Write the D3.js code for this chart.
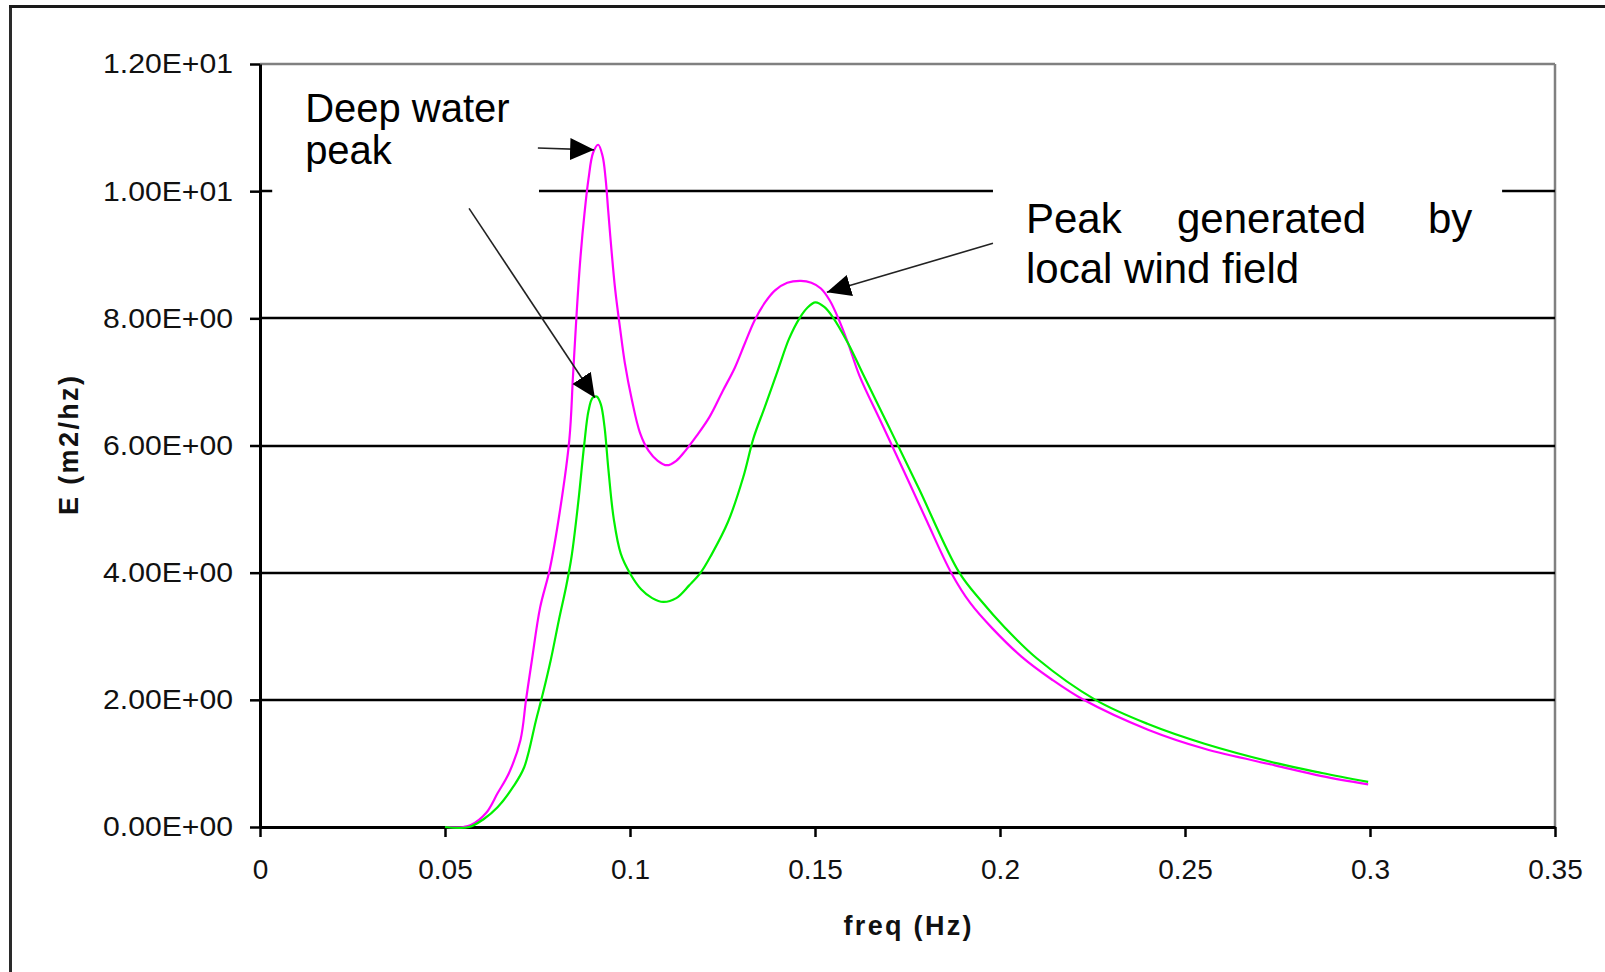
<!DOCTYPE html>
<html>
<head>
<meta charset="utf-8">
<script src="https://cdn.jsdelivr.net/npm/d3@7"></script>
<style>
  html, body { margin: 0; padding: 0; background: #fff; }
  svg { display: block; }
  text { font-family: "Liberation Sans", Arial, sans-serif; }
</style>
</head>
<body>
<svg id="chart" width="1605" height="972"></svg>
<script>
// ---------------- data ----------------
const xTicks = [0, 0.05, 0.1, 0.15, 0.2, 0.25, 0.3, 0.35];
const xTickLabels = ["0", "0.05", "0.1", "0.15", "0.2", "0.25", "0.3", "0.35"];
const yTicks = [0, 2, 4, 6, 8, 10, 12];
const yTickLabels = ["0.00E+00", "2.00E+00", "4.00E+00", "6.00E+00", "8.00E+00", "1.00E+01", "1.20E+01"];

// magenta series
const freqMagenta = [0.050, 0.055, 0.057, 0.0611, 0.0642, 0.0673, 0.0704, 0.0719, 0.0735, 0.0757, 0.0783, 0.0810,
  0.0836, 0.0846, 0.0856, 0.0866, 0.0877, 0.0888, 0.0900, 0.0914, 0.0926, 0.0934, 0.0941, 0.0950, 0.0960,
  0.0973, 0.0986, 0.1005, 0.1027, 0.1050, 0.1075, 0.1100, 0.1125, 0.1150, 0.1180, 0.1215, 0.1250, 0.1283, 0.1310,
  0.1337, 0.1365, 0.1392, 0.1425, 0.1462, 0.1490, 0.1516, 0.1540, 0.1563, 0.1590, 0.1620, 0.1680, 0.1740,
  0.1800, 0.1868, 0.1920, 0.1980, 0.2058, 0.2140, 0.2226, 0.2400, 0.2553, 0.2743, 0.2870, 0.2995];
const energyMagenta = [0, 0, 0.03, 0.22, 0.53, 0.85, 1.37, 2.00, 2.63, 3.45, 4.05, 4.95,
  6.09, 7.10, 8.10, 8.95, 9.65, 10.20, 10.60, 10.73, 10.55, 10.20, 9.70, 9.07, 8.45,
  7.85, 7.30, 6.72, 6.20, 5.92, 5.76, 5.69, 5.76, 5.92, 6.15, 6.45, 6.85, 7.22, 7.60,
  7.97, 8.25, 8.44, 8.56, 8.59, 8.56, 8.47, 8.28, 8.00, 7.60, 7.10, 6.35, 5.60,
  4.84, 4.00, 3.52, 3.12, 2.68, 2.32, 2.00, 1.53, 1.23, 0.97, 0.80, 0.67];

// green series
const freqGreen = [0.050, 0.0565, 0.0605, 0.0642, 0.0684, 0.0714, 0.0746, 0.0765, 0.0786, 0.0808, 0.0827, 0.0842,
  0.0860, 0.0876, 0.0888, 0.0899, 0.0910, 0.0921, 0.0931, 0.0942, 0.0956, 0.0975, 0.1001, 0.1030, 0.1060, 0.1090, 0.1125,
  0.1160, 0.1191, 0.1220, 0.1265, 0.1306, 0.1334, 0.1364, 0.1400, 0.1430, 0.1458, 0.1480, 0.1501, 0.1525, 0.1548,
  0.1590, 0.1630, 0.1700, 0.1780, 0.1890, 0.1950, 0.2011, 0.2100, 0.2258, 0.2400, 0.2553, 0.2750, 0.2870, 0.2995];
const energyGreen = [0, 0, 0.126, 0.31, 0.63, 0.94, 1.68, 2.11, 2.63, 3.26, 3.77, 4.25,
  5.10, 6.00, 6.55, 6.75, 6.77, 6.65, 6.30, 5.60, 4.85, 4.30, 3.98, 3.74, 3.60, 3.54, 3.60,
  3.80, 4.00, 4.28, 4.80, 5.50, 6.12, 6.60, 7.19, 7.68, 8.00, 8.17, 8.25, 8.18, 8.02,
  7.60, 7.12, 6.29, 5.33, 4.00, 3.55, 3.15, 2.65, 2.00, 1.62, 1.31, 1.00, 0.85, 0.71];

// annotation texts
const deepLabel = ["Deep water", "peak"];
const windLine1 = ["Peak", "generated", "by"];
const windLine2 = "local wind field";
const xTitle = "freq (Hz)";
const yTitle = "E (m2/hz)";

// ---------------- layout ----------------
const svg = d3.select("#chart");
const W = 1605, H = 972;
const plotLeft = 260, plotRight = 1555, plotTop = 64, plotBottom = 827;

const x = d3.scaleLinear().domain([0, 0.35]).range([plotLeft, plotRight]);
const y = d3.scaleLinear().domain([0, 12]).range([plotBottom, plotTop]);

// outer frame
svg.append("line").attr("x1", 10.5).attr("x2", 10.5).attr("y1", 5).attr("y2", H)
  .attr("stroke", "#2a2a2a").attr("stroke-width", 3);
svg.append("line").attr("x1", 9).attr("x2", W).attr("y1", 6.5).attr("y2", 6.5)
  .attr("stroke", "#1a1a1a").attr("stroke-width", 3);

// plot border (top & right, gray)
svg.append("line").attr("x1", plotLeft).attr("x2", plotRight).attr("y1", y(12)).attr("y2", y(12))
  .attr("stroke", "#808080").attr("stroke-width", 2.5);
svg.append("line").attr("x1", plotRight).attr("x2", plotRight).attr("y1", y(12)).attr("y2", y(0))
  .attr("stroke", "#808080").attr("stroke-width", 2.5);

// gridlines
svg.append("g").selectAll("line").data(yTicks.filter(d => d > 0 && d < 12)).join("line")
  .attr("x1", plotLeft).attr("x2", plotRight)
  .attr("y1", d => Math.round(y(d))).attr("y2", d => Math.round(y(d)))
  .attr("stroke", "#000").attr("stroke-width", 2.5);

// axes
const fontTick = 28;
const xAxis = d3.axisBottom(x).tickValues(xTicks).tickFormat((d, i) => xTickLabels[i])
  .tickSize(10).tickSizeOuter(0).tickPadding(22);
const gx = svg.append("g").attr("transform", `translate(0,${plotBottom})`).call(xAxis);
const yAxis = d3.axisLeft(y).tickValues(yTicks).tickFormat((d, i) => yTickLabels[i])
  .tickSize(10).tickSizeOuter(0).tickPadding(17);
const gy = svg.append("g").attr("transform", `translate(${plotLeft},0)`).call(yAxis);
[gx, gy].forEach(g => {
  g.select(".domain").attr("stroke", "#000").attr("stroke-width", 3);
  g.selectAll(".tick line").attr("stroke", "#000").attr("stroke-width", 2.5);
  g.selectAll(".tick text").attr("fill", "#111").style("font-size", fontTick + "px")
    .style("font-family", "'Liberation Sans', Arial, sans-serif");
});
gy.selectAll(".tick text").attr("textLength", 130).attr("lengthAdjust", "spacingAndGlyphs");

// axis titles
svg.append("text").attr("x", (plotLeft + plotRight) / 2).attr("y", 935).attr("text-anchor", "middle")
  .style("font-size", "27px").style("font-weight", "bold").attr("fill", "#111")
  .attr("textLength", 128).attr("lengthAdjust", "spacing").text(xTitle);
svg.append("text").attr("transform", `translate(78,${(plotTop + plotBottom) / 2}) rotate(-90)`)
  .attr("text-anchor", "middle")
  .style("font-size", "27px").style("font-weight", "bold").attr("fill", "#111")
  .attr("textLength", 139).attr("lengthAdjust", "spacing").text(yTitle);

// annotation boxes (white, hide gridline)
svg.append("rect").attr("x", x(0.0033)).attr("y", y(11.75))
  .attr("width", x(0.0754) - x(0.0033)).attr("height", y(9.86) - y(11.75)).attr("fill", "#fff");
svg.append("rect").attr("x", x(0.1981)).attr("y", y(10.3))
  .attr("width", x(0.3357) - x(0.1981)).attr("height", y(8.29) - y(10.3)).attr("fill", "#fff");

// curves
const line = d3.line().x(d => x(d[0])).y(d => y(d[1])).curve(d3.curveCatmullRom.alpha(0.5));
const magenta = freqMagenta.map((f, i) => [f, energyMagenta[i]]);
const green = freqGreen.map((f, i) => [f, energyGreen[i]]);
svg.append("path").datum(magenta).attr("d", line).attr("fill", "none")
  .attr("stroke", "#ff00ff").attr("stroke-width", 2.2);
svg.append("path").datum(green).attr("d", line).attr("fill", "none")
  .attr("stroke", "#00f000").attr("stroke-width", 2.2);

// arrows
const defs = svg.append("defs");
defs.append("marker").attr("id", "ah").attr("markerUnits", "userSpaceOnUse")
  .attr("markerWidth", 26).attr("markerHeight", 24).attr("refX", 24).attr("refY", 12)
  .attr("orient", "auto")
  .append("path").attr("d", "M0,1 L24,12 L0,23 Z").attr("fill", "#000");
const arrows = [
  [[0.0751, 10.68], [0.0903, 10.65]],
  [[0.0565, 9.73], [0.0905, 6.75]],
  [[0.1981, 9.18], [0.1532, 8.41]]
];
svg.append("g").selectAll("line").data(arrows).join("line")
  .attr("x1", d => x(d[0][0])).attr("y1", d => y(d[0][1]))
  .attr("x2", d => x(d[1][0])).attr("y2", d => y(d[1][1]))
  .attr("stroke", "#222").attr("stroke-width", 1.6).attr("marker-end", "url(#ah)");

// annotation texts
const deep = svg.append("text").style("font-size", "40px").attr("fill", "#000");
deep.append("tspan").attr("x", x(0.0122)).attr("y", 122).text(deepLabel[0]);
deep.append("tspan").attr("x", x(0.0122)).attr("y", 164).text(deepLabel[1]);

const wx = [1026, 1177, 1428];
svg.append("g").selectAll("text").data(windLine1).join("text")
  .attr("x", (d, i) => wx[i]).attr("y", 233).style("font-size", "42px").attr("fill", "#000").text(d => d);
svg.append("text").attr("x", 1026).attr("y", 283).style("font-size", "42px").attr("fill", "#000").text(windLine2);
</script>
</body>
</html>
